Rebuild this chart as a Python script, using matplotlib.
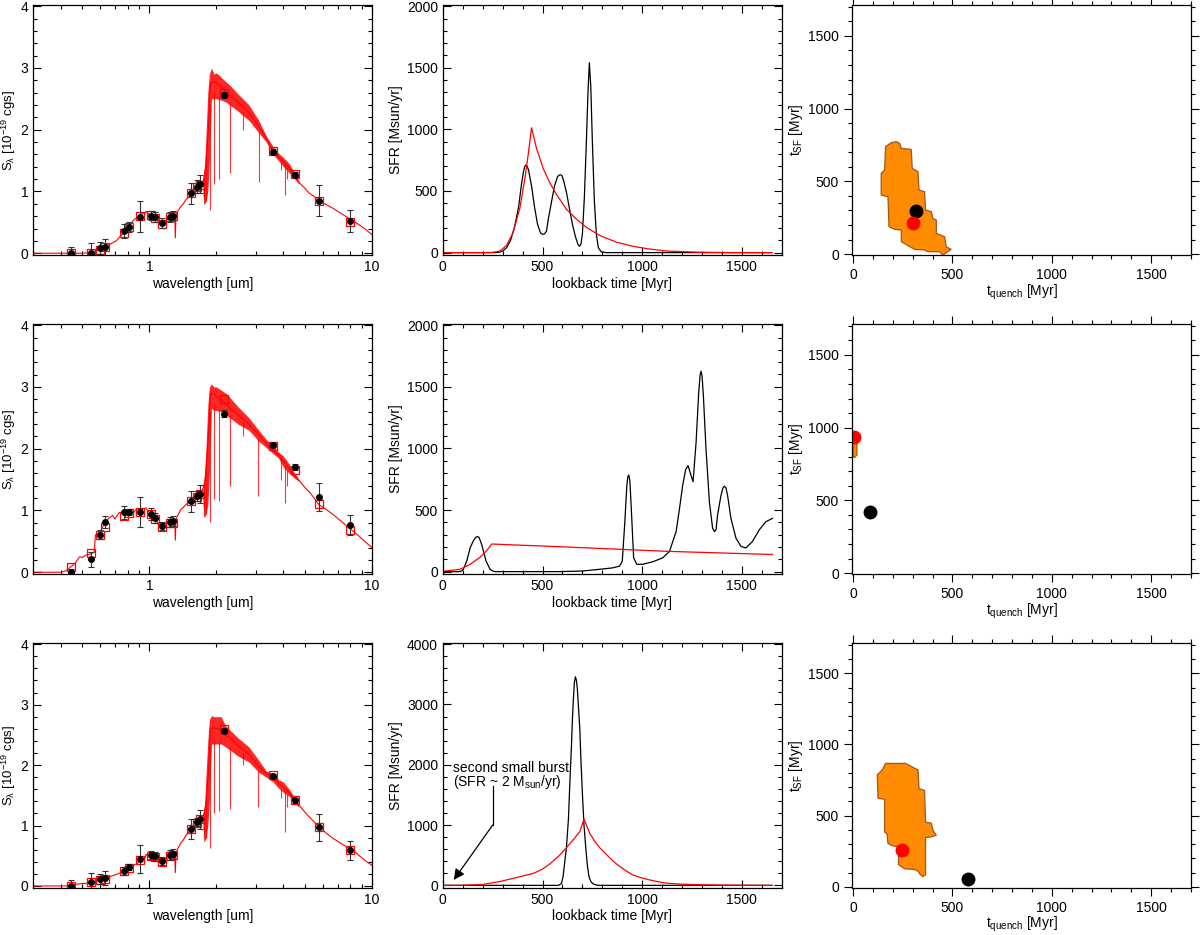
import numpy as np
import matplotlib
matplotlib.use("Agg")
import matplotlib.pyplot as plt
from matplotlib.ticker import AutoMinorLocator, NullFormatter, MultipleLocator

plt.rcParams['font.family'] = ['Liberation Sans', 'DejaVu Sans']
plt.rcParams['font.size'] = 10
plt.rcParams['mathtext.default'] = 'regular'

# ---------------- SED photometry (same filters for all three rows) ----------------
phot_wave = [0.445, 0.547, 0.60, 0.63, 0.77, 0.813, 0.905, 1.017, 1.057, 1.144,
             1.243, 1.273, 1.545, 1.64, 1.69, 2.16, 3.58, 4.51, 5.76, 7.99]

obs_1 = [0.0, 0.0, 0.08, 0.10, 0.36, 0.43, 0.59, 0.61, 0.58, 0.49,
         0.58, 0.61, 0.97, 1.08, 1.12, 2.56, 1.64, 1.27, 0.85, 0.52]
err_1 = [0.10, 0.16, 0.10, 0.13, 0.11, 0.08, 0.25, 0.08, 0.08, 0.08,
         0.08, 0.08, 0.17, 0.10, 0.15, 0.05, 0.04, 0.04, 0.25, 0.18]
mod_1 = [0.0, 0.0, 0.05, 0.10, 0.33, 0.42, 0.60, 0.62, 0.57, 0.48,
         0.58, 0.60, 0.97, 1.07, 1.11, 2.60, 1.65, 1.28, 0.85, 0.51]

obs_2 = [0.01, 0.21, 0.61, 0.81, 0.97, 0.98, 0.98, 0.94, 0.88, 0.75,
         0.81, 0.83, 1.15, 1.24, 1.27, 2.57, 2.06, 1.70, 1.22, 0.77]
err_2 = [0.05, 0.12, 0.07, 0.10, 0.10, 0.05, 0.24, 0.10, 0.08, 0.07,
         0.08, 0.08, 0.17, 0.08, 0.15, 0.05, 0.04, 0.05, 0.23, 0.16]
mod_2 = [0.09, 0.31, 0.60, 0.73, 0.91, 0.96, 0.98, 0.94, 0.87, 0.73,
         0.80, 0.80, 1.15, 1.22, 1.26, 2.80, 2.05, 1.65, 1.10, 0.69]

obs_3 = [0.0, 0.07, 0.11, 0.13, 0.25, 0.32, 0.45, 0.51, 0.49, 0.41,
         0.51, 0.53, 0.94, 1.06, 1.10, 2.57, 1.82, 1.42, 0.97, 0.59]
err_3 = [0.10, 0.15, 0.08, 0.11, 0.07, 0.05, 0.23, 0.07, 0.08, 0.07,
         0.08, 0.08, 0.17, 0.06, 0.15, 0.04, 0.04, 0.04, 0.22, 0.16]
mod_3 = [0.0, 0.06, 0.10, 0.12, 0.24, 0.30, 0.43, 0.50, 0.48, 0.40,
         0.50, 0.52, 0.94, 1.05, 1.10, 2.60, 1.83, 1.43, 0.97, 0.59]

# ---------------- model spectra ----------------
spec_wave_1 = [0.30, 0.42, 0.50, 0.538, 0.576, 0.60, 0.63, 0.66, 0.684, 0.71, 0.733, 0.75, 0.77,
               0.79, 0.813, 0.835, 0.856, 0.88, 0.905, 0.933, 0.95, 0.966, 0.99, 1.017, 1.057,
               1.08, 1.109, 1.144, 1.188, 1.243, 1.273, 1.30, 1.308, 1.316, 1.341, 1.388, 1.42,
               1.461, 1.50, 1.545, 1.60, 1.64, 1.69, 1.736, 1.77, 1.80, 1.84, 1.88, 1.95, 2.0,
               2.1, 2.2, 2.35, 2.5, 2.8, 3.1, 3.35, 3.58, 3.8, 4.0, 4.25, 4.5, 4.72, 5.0, 5.23,
               5.5, 5.76, 6.2, 6.66, 7.3, 7.99, 8.4, 8.77, 9.4, 10.0]
spec_flux_1 = [0.0, 0.0, 0.0, 0.01, 0.04, 0.07, 0.10, 0.14, 0.17, 0.20, 0.26, 0.29, 0.36,
               0.40, 0.44, 0.50, 0.55, 0.57, 0.60, 0.66, 0.63, 0.68, 0.64, 0.61, 0.57,
               0.54, 0.50, 0.47, 0.53, 0.59, 0.61, 0.58, 0.25, 0.60, 0.68, 0.76, 0.80,
               0.87, 0.91, 0.95, 1.01, 1.06, 1.10, 1.15, 1.25, 1.50, 2.00, 2.75, 2.78, 2.75,
               2.70, 2.62, 2.52, 2.45, 2.28, 2.05, 1.86, 1.66, 1.56, 1.48, 1.38, 1.25, 1.14, 1.05, 0.97,
               0.92, 0.85, 0.79, 0.73, 0.64, 0.55, 0.50, 0.46, 0.38, 0.30]
band_wave_1 = [1.74, 1.77, 1.80, 1.83, 1.86, 1.90, 1.95, 2.0, 2.1, 2.2, 2.3, 2.5, 2.8, 3.1,
               3.35, 3.6, 3.8, 4.0, 4.25, 4.5, 4.7]
band_lo_1 = [0.95, 0.80, 0.85, 1.00, 1.50, 2.50, 2.50, 2.50, 2.48, 2.45, 2.40, 2.30, 2.15, 1.95,
             1.80, 1.60, 1.50, 1.40, 1.30, 1.20, 1.12]
band_hi_1 = [1.25, 1.40, 2.00, 2.60, 2.90, 3.00, 2.90, 2.92, 2.85, 2.78, 2.72, 2.58, 2.40, 2.15,
             1.90, 1.72, 1.62, 1.55, 1.45, 1.30, 1.16]
line_wave_1 = [1.76, 1.79, 1.873, 1.96, 2.05, 2.30, 2.62, 3.10, 3.92, 4.05, 4.15]
line_lo_1 = [0.80, 0.85, 0.70, 1.12, 1.20, 1.30, 2.00, 1.15, 1.35, 0.95, 1.20]
line_hi_1 = [1.30, 1.60, 2.40, 2.60, 2.55, 2.45, 2.30, 1.98, 1.50, 1.45, 1.40]

spec_wave_2 = [0.30, 0.40, 0.42, 0.445, 0.465, 0.485, 0.50, 0.52, 0.547, 0.566, 0.572, 0.60,
               0.63, 0.66, 0.684, 0.70, 0.733, 0.77, 0.79, 0.813, 0.835, 0.856, 0.88, 0.905,
               0.933, 0.966, 0.99, 1.017, 1.057, 1.08, 1.109, 1.144, 1.188, 1.243, 1.273, 1.30,
               1.308, 1.316, 1.341, 1.388, 1.42, 1.461, 1.50, 1.545, 1.60, 1.64, 1.69, 1.736,
               1.77, 1.80, 1.84, 1.88, 1.95, 2.0, 2.1, 2.2, 2.35, 2.5, 2.8, 3.1, 3.35, 3.58,
               3.8, 4.0, 4.25, 4.5, 4.72, 5.0, 5.23, 5.5, 5.76, 6.2, 6.66, 7.3, 7.99, 8.4,
               8.77, 9.4, 10.0]
spec_flux_2 = [0.0, 0.0, 0.02, 0.09, 0.15, 0.25, 0.24, 0.28, 0.30, 0.33, 0.60, 0.65,
               0.80, 0.88, 0.92, 0.86, 0.97, 0.95, 1.00, 0.99, 0.94, 0.98, 1.03, 1.00,
               1.02, 1.04, 0.99, 0.95, 0.88, 0.82, 0.78, 0.75, 0.80, 0.82, 0.84, 0.82,
               0.52, 0.85, 0.92, 1.02, 1.05, 1.10, 1.12, 1.15, 1.20, 1.24, 1.26, 1.35,
               1.45, 1.70, 2.20, 2.90, 2.88, 2.85, 2.80, 2.73, 2.62, 2.55, 2.40, 2.22, 2.08, 1.98,
               1.90, 1.80, 1.68, 1.56, 1.48, 1.37, 1.30, 1.20, 1.10, 1.02, 0.94, 0.82, 0.70, 0.64,
               0.58, 0.48, 0.40]
band_wave_2 = [1.74, 1.77, 1.80, 1.83, 1.86, 1.90, 1.95, 2.0, 2.1, 2.2, 2.3, 2.5, 2.8, 3.1,
               3.35, 3.6, 3.8, 4.0, 4.25, 4.5, 4.7]
band_lo_2 = [1.10, 0.90, 0.95, 1.10, 1.60, 2.65, 2.62, 2.62, 2.60, 2.55, 2.50, 2.40, 2.30, 2.12,
             2.02, 1.92, 1.85, 1.70, 1.60, 1.52, 1.47]
band_hi_2 = [1.40, 1.55, 2.10, 2.70, 3.00, 3.05, 3.00, 3.00, 2.95, 2.90, 2.83, 2.68, 2.50, 2.30,
             2.15, 2.05, 1.95, 1.88, 1.75, 1.60, 1.50]
line_wave_2 = [1.76, 1.79, 1.873, 1.96, 2.05, 2.30, 2.62, 3.08, 3.92, 4.05, 4.15]
line_lo_2 = [0.90, 0.95, 0.81, 1.18, 1.16, 1.40, 2.20, 1.24, 1.50, 1.12, 1.40]
line_hi_2 = [1.45, 1.80, 2.60, 2.70, 2.65, 2.55, 2.45, 2.15, 1.85, 1.72, 1.65]

spec_wave_3 = [0.30, 0.42, 0.445, 0.50, 0.538, 0.576, 0.60, 0.63, 0.66, 0.684, 0.71, 0.733,
               0.75, 0.77, 0.79, 0.813, 0.835, 0.856, 0.88, 0.905, 0.933, 0.95, 0.966, 0.99,
               1.017, 1.057, 1.08, 1.109, 1.144, 1.188, 1.243, 1.273, 1.30, 1.308, 1.316,
               1.341, 1.388, 1.42, 1.461, 1.50, 1.545, 1.60, 1.64, 1.69, 1.736, 1.77, 1.80,
               1.84, 1.88, 1.95, 2.0, 2.1, 2.2, 2.35, 2.5, 2.8, 3.1, 3.35, 3.58, 3.8, 4.0,
               4.25, 4.5, 4.72, 5.0, 5.23, 5.5, 5.76, 6.2, 6.66, 7.3, 7.99, 8.4, 8.77, 9.4, 10.0]
spec_flux_3 = [0.0, 0.0, 0.02, 0.04, 0.05, 0.08, 0.12, 0.14, 0.15, 0.17, 0.19, 0.21,
               0.23, 0.25, 0.28, 0.30, 0.33, 0.35, 0.37, 0.41, 0.46, 0.44, 0.52, 0.50,
               0.49, 0.46, 0.43, 0.40, 0.38, 0.43, 0.50, 0.53, 0.50, 0.22, 0.52,
               0.62, 0.72, 0.76, 0.84, 0.88, 0.93, 0.99, 1.04, 1.09, 1.14, 1.22, 1.40,
               1.85, 2.60, 2.62, 2.60, 2.58, 2.50, 2.42, 2.32, 2.18, 1.98, 1.86, 1.80, 1.70, 1.63,
               1.54, 1.42, 1.33, 1.22, 1.14, 1.06, 0.99, 0.88, 0.79, 0.70, 0.61, 0.56, 0.50, 0.41, 0.34]
band_wave_3 = [1.74, 1.77, 1.80, 1.83, 1.86, 1.90, 1.95, 2.0, 2.1, 2.2, 2.3, 2.5, 2.8, 3.1,
               3.35, 3.6, 3.8, 4.0, 4.25, 4.5, 4.7]
band_lo_3 = [0.95, 0.75, 0.80, 1.00, 1.40, 2.35, 2.35, 2.35, 2.35, 2.30, 2.25, 2.15, 2.05, 1.88,
             1.80, 1.72, 1.62, 1.55, 1.48, 1.38, 1.30]
band_hi_3 = [1.20, 1.35, 1.90, 2.40, 2.75, 2.82, 2.80, 2.80, 2.80, 2.65, 2.58, 2.45, 2.30, 2.08,
             1.90, 1.86, 1.76, 1.72, 1.60, 1.46, 1.34]
line_wave_3 = [1.76, 1.79, 1.873, 1.96, 2.05, 2.30, 2.62, 3.08, 3.92, 4.05, 4.15]
line_lo_3 = [0.75, 0.80, 0.62, 1.20, 1.24, 1.28, 2.00, 1.30, 1.45, 0.90, 1.30]
line_hi_3 = [1.25, 1.50, 2.30, 2.40, 2.40, 2.30, 2.20, 1.90, 1.60, 1.58, 1.52]

# ---------------- star formation histories ----------------
sfh_t_1 = [0, 250, 270, 285, 300, 320, 340, 360, 380, 395, 405, 411, 417, 423, 430, 445, 460,
           475, 490, 500, 510, 520, 530, 545, 560, 575, 583, 590, 597, 605, 620, 635, 650, 665,
           678, 686, 693, 700, 710, 720, 728, 735, 742, 750, 760, 770, 780, 795, 820, 1650]
sfh_true_1 = [0, 0, 1, 4, 12, 40, 100, 210, 370, 560, 660, 700, 712, 700, 670, 540, 370,
              230, 160, 148, 152, 175, 280, 410, 540, 615, 628, 632, 625, 590, 490, 360, 230, 130,
              65, 52, 70, 150, 450, 900, 1300, 1540, 1350, 900, 420, 150, 40, 5, 0, 0]
fit_t_1 = [0, 200, 250, 287, 320, 353, 387, 412, 428, 445, 470, 503, 537, 570, 620, 670, 720,
           787, 870, 953, 1037, 1120, 1287, 1453, 1650]
fit_sfr_1 = [0, 0, 2, 13, 59, 165, 365, 605, 792, 1013, 845, 685, 565, 472, 352, 272, 205,
             139, 85, 51, 29, 13, 3, 0, 0]

sfh_t_2 = [0, 80, 95, 103, 120, 137, 153, 165, 173, 182, 195, 217, 237, 250, 262, 587, 700, 787,
           850, 887, 900, 912, 923, 928, 933, 938, 945, 957, 973, 1003, 1053, 1103, 1137, 1170,
           1187, 1203, 1218, 1230, 1245, 1255, 1270, 1283, 1290, 1295, 1300, 1307, 1320, 1337,
           1353, 1362, 1370, 1378, 1395, 1405, 1412, 1420, 1428, 1445, 1470, 1495, 1520, 1553,
           1587, 1620, 1653]
sfh_true_2 = [0, 0, 5, 19, 85, 192, 250, 278, 285, 278, 220, 85, 19, 5, 0, 0, 5, 19,
              30, 45, 85, 380, 700, 770, 784, 740, 520, 112, 59, 60, 80, 112, 165, 325,
              512, 700, 830, 860, 780, 730, 1045, 1445, 1590, 1627, 1590, 1420, 992, 565,
              352, 325, 339, 459, 619, 680, 693, 680, 619, 432, 272, 205, 192, 245,
              339, 405, 432]
fit_t_2 = [0, 87, 137, 187, 220, 245, 620, 1120, 1653]
fit_sfr_2 = [3, 19, 59, 117, 171, 224, 200, 165, 139]

sfh_t_3 = [0, 580, 595, 603, 612, 620, 630, 637, 645, 650, 655, 660, 665, 670, 675, 687, 693,
           700, 708, 717, 725, 733, 743, 753, 770, 787, 1650]
sfh_true_3 = [0, 0, 30, 144, 400, 624, 1100, 1690, 2300, 2757, 3100, 3370, 3460, 3400, 3250,
              2597, 2050, 1530, 1000, 624, 330, 144, 60, 27, 5, 0, 0]
fit_t_3 = [0, 100, 200, 287, 370, 453, 500, 537, 580, 620, 655, 687, 708, 720, 737, 760, 787,
           830, 870, 910, 953, 1000, 1037, 1080, 1120, 1200, 1287, 1400, 1653]
fit_sfr_3 = [0, 2, 15, 64, 130, 197, 270, 357, 480, 624, 760, 890, 1100, 1000, 864, 740, 624,
             480, 357, 260, 171, 120, 91, 60, 37, 20, 11, 4, 0]

# ---------------- t_quench / t_SF confidence regions ----------------
reg_q_1 = [164, 193, 218, 235, 243, 293, 298, 327, 332, 360, 365, 394, 402, 419, 419, 461, 469,
           494, 452, 436, 377, 360, 310, 243, 243, 209, 181, 176, 142, 142, 159]
reg_sf_1 = [739, 766, 773, 761, 727, 720, 589, 567, 440, 429, 303, 291, 245, 234, 142, 119, 50,
            32, -7, 16, 16, 28, 32, 85, 165, 170, 188, 394, 406, 555, 578]
reg_q_2 = [0, 20, 20, 8, 0]
reg_sf_2 = [910, 910, 813, 795, 800]
reg_q_3 = [164, 265, 310, 327, 332, 360, 365, 394, 402, 419, 394, 365, 365, 352, 338, 327, 310,
           260, 229, 229, 201, 176, 171, 159, 159, 126, 122, 147]
reg_sf_3 = [867, 867, 833, 821, 690, 677, 454, 447, 397, 362, 351, 346, 85, 71, 87, 110, 122,
            126, 156, 282, 287, 305, 374, 385, 615, 622, 787, 821]

true_pt = [(317, 296), (85, 418), (580, 53)]
best_pt = [(302, 211), (5, 938), (248, 255)]

seds = [(spec_wave_1, spec_flux_1, band_wave_1, band_lo_1, band_hi_1, line_wave_1, line_lo_1, line_hi_1, obs_1, err_1, mod_1),
        (spec_wave_2, spec_flux_2, band_wave_2, band_lo_2, band_hi_2, line_wave_2, line_lo_2, line_hi_2, obs_2, err_2, mod_2),
        (spec_wave_3, spec_flux_3, band_wave_3, band_lo_3, band_hi_3, line_wave_3, line_lo_3, line_hi_3, obs_3, err_3, mod_3)]
sfhs = [(sfh_t_1, sfh_true_1, fit_t_1, fit_sfr_1),
        (sfh_t_2, sfh_true_2, fit_t_2, fit_sfr_2),
        (sfh_t_3, sfh_true_3, fit_t_3, fit_sfr_3)]
regions = [(reg_q_1, reg_sf_1), (reg_q_2, reg_sf_2), (reg_q_3, reg_sf_3)]

fig = plt.figure(figsize=(12, 9.35), dpi=100)
col_x = [0.0275, 0.369, 0.71]
row_y = [0.7272, 0.386, 0.0505]
row_h = [0.2675, 0.2675, 0.2618]
w = 0.2825


def idl_ticks(ax, direction='in'):
    ax.tick_params(which='both', direction=direction, top=True, right=True, labelsize=10)
    ax.tick_params(which='major', length=6, width=0.8)
    ax.tick_params(which='minor', length=3, width=0.8)
    for s in ax.spines.values():
        s.set_linewidth(0.9)


for r in range(3):
    h = row_h[r]
    # ---- SED
    sw, sf, bw, blo, bhi, lw_, llo, lhi, obs, err, mod = seds[r]
    ax = fig.add_axes([col_x[0], row_y[r], w, h])
    ax.fill_between(bw, blo, bhi, color='red', lw=0, alpha=0.85)
    ax.vlines(lw_, llo, lhi, color='red', lw=0.8, alpha=0.8)
    ax.plot(sw, sf, color='red', lw=0.8)
    ax.plot(phot_wave, mod, 's', ms=5.5, mfc='none', mec='red', mew=0.9)
    ax.errorbar(phot_wave, obs, yerr=err, fmt='o', ms=4, color='black',
                ecolor='#333333', elinewidth=0.8, capsize=2, capthick=0.8)
    ax.set_xscale('log')
    ax.set_xlim(0.3, 10)
    ax.set_ylim(-0.03, 4.02)
    ax.set_xticks([1, 10])
    ax.set_xticklabels(['1', '10'])
    ax.xaxis.set_minor_formatter(NullFormatter())
    ax.yaxis.set_major_locator(MultipleLocator(1))
    ax.yaxis.set_minor_locator(AutoMinorLocator(5))
    idl_ticks(ax)
    ax.set_xlabel('wavelength [um]', labelpad=2)
    ax.set_ylabel(r'S$_\lambda$ [10$^{-19}$ cgs]', fontsize=9.5)
    ax.yaxis.set_label_coords(-0.045, 0.5)

    # ---- SFH
    t, s_true, tf, s_fit = sfhs[r]
    ax = fig.add_axes([col_x[1], row_y[r], w, h])
    ax.plot(t, s_true, color='black', lw=0.9)
    ax.plot(tf, s_fit, color='red', lw=0.9)
    ax.set_xlim(0, 1700)
    ax.xaxis.set_major_locator(MultipleLocator(500))
    ax.xaxis.set_minor_locator(AutoMinorLocator(5))
    if r < 2:
        ax.set_ylim(-20, 2010)
        ax.yaxis.set_major_locator(MultipleLocator(500))
    else:
        ax.set_ylim(-40, 4020)
        ax.yaxis.set_major_locator(MultipleLocator(1000))
        ax.plot([250, 250], [1640, 1000], color='black', lw=0.9)
        ax.annotate('', xy=(55, 90), xytext=(250, 1000),
                    arrowprops=dict(arrowstyle='-|>', color='black', lw=0.9,
                                    mutation_scale=16, shrinkA=0, shrinkB=0))
        ax.text(52, 1950, 'second small burst', ha='left', va='center', fontsize=10)
        ax.text(52, 1720, r'(SFR ~ 2 M$_{sun}$/yr)', ha='left', va='center', fontsize=10)
    ax.yaxis.set_minor_locator(AutoMinorLocator(5))
    idl_ticks(ax)
    ax.set_xlabel('lookback time [Myr]', labelpad=2)
    ax.set_ylabel('SFR [Msun/yr]')
    ax.yaxis.set_label_coords(-0.118, 0.5)

    # ---- t_quench vs t_SF
    q, sfv = regions[r]
    ax = fig.add_axes([col_x[2], row_y[r], w, h])
    ax.fill(q, sfv, facecolor='#FF8C00', edgecolor='#A0561C', lw=0.9)
    ax.plot(*true_pt[r], 'o', color='black', ms=9)
    ax.plot(*best_pt[r], 'o', color='red', ms=9)
    ax.set_xlim(-5, 1700)
    ax.set_ylim(-7, 1713)
    ax.xaxis.set_major_locator(MultipleLocator(500))
    ax.xaxis.set_minor_locator(AutoMinorLocator(5))
    ax.yaxis.set_major_locator(MultipleLocator(500))
    ax.yaxis.set_minor_locator(AutoMinorLocator(5))
    idl_ticks(ax, direction='out')
    ax.set_xlabel(r't$_{quench}$ [Myr]', labelpad=0)
    ax.set_ylabel(r't$_{SF}$ [Myr]', labelpad=2)

fig.savefig('out.png', dpi=100)
